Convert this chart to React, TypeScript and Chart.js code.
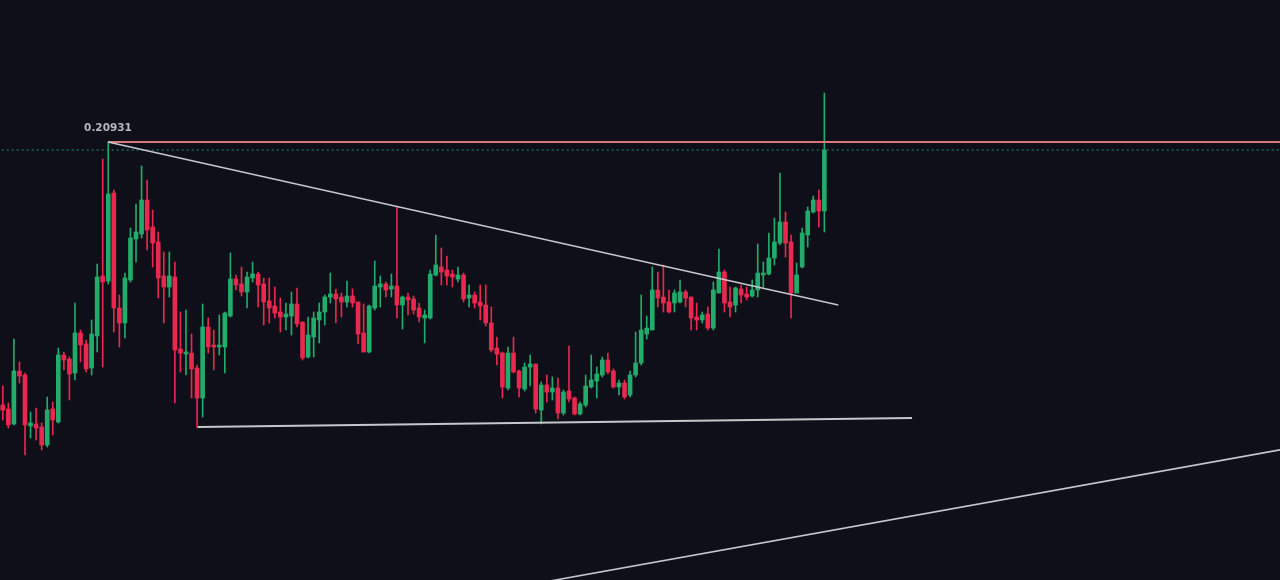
import { useEffect, useRef } from "react";
import { Chart, registerables } from "chart.js";

Chart.register(...registerables);

// OHLC prices (one entry per candle, oldest first)
const opens = [
  0.1830, 0.1826, 0.1811, 0.1864, 0.1860, 0.1809, 0.1811, 0.1808, 0.1790, 0.1826,
  0.1813, 0.1880, 0.1876, 0.1862, 0.1902, 0.1891, 0.1867, 0.1899, 0.1959, 0.1954,
  0.2042, 0.1927, 0.1912, 0.1955, 0.1996, 0.2001, 0.2035, 0.2008, 0.1993, 0.1959,
  0.1948, 0.1958, 0.1886, 0.1881, 0.1882, 0.1867, 0.1837, 0.1908, 0.1890, 0.1888,
  0.1888, 0.1919, 0.1956, 0.1951, 0.1943, 0.1957, 0.1961, 0.1951, 0.1934, 0.1929,
  0.1923, 0.1918, 0.1919, 0.1931, 0.1913, 0.1878, 0.1898, 0.1915, 0.1923, 0.1938,
  0.1941, 0.1938, 0.1933, 0.1939, 0.1933, 0.1902, 0.1883, 0.1927, 0.1948, 0.1951,
  0.1946, 0.1949, 0.1930, 0.1938, 0.1936, 0.1927, 0.1917, 0.1917, 0.1960, 0.1968,
  0.1965, 0.1961, 0.1956, 0.1960, 0.1937, 0.1940, 0.1933, 0.1930, 0.1912, 0.1887,
  0.1882, 0.1847, 0.1882, 0.1864, 0.1846, 0.1868, 0.1871, 0.1825, 0.1850, 0.1843,
  0.1847, 0.1822, 0.1844, 0.1837, 0.1821, 0.1830, 0.1848, 0.1854, 0.1860, 0.1875,
  0.1864, 0.1848, 0.1852, 0.1840, 0.1860, 0.1872, 0.1901, 0.1905, 0.1945, 0.1938,
  0.1933, 0.1932, 0.1933, 0.1943, 0.1938, 0.1918, 0.1915, 0.1921, 0.1907, 0.1942,
  0.1963, 0.1933, 0.1930, 0.1946, 0.1941, 0.1939, 0.1945, 0.1960, 0.1961, 0.1977,
  0.1992, 0.2013, 0.1993, 0.1942, 0.1968, 0.2000, 0.2023, 0.2035, 0.2024,
];

const highs = [
  0.1849, 0.1832, 0.1896, 0.1873, 0.1862, 0.1823, 0.1827, 0.1812, 0.1838, 0.1833,
  0.1887, 0.1883, 0.1878, 0.1932, 0.1905, 0.1895, 0.1915, 0.1971, 0.2076, 0.20931,
  0.2045, 0.1940, 0.1962, 0.2007, 0.2031, 0.2069, 0.2055, 0.2025, 0.2003, 0.1983,
  0.1983, 0.1973, 0.1923, 0.1925, 0.1901, 0.1870, 0.1931, 0.1917, 0.1905, 0.1920,
  0.1923, 0.1982, 0.1960, 0.1968, 0.1963, 0.1973, 0.1963, 0.1957, 0.1957, 0.1948,
  0.1937, 0.1932, 0.1943, 0.1947, 0.1913, 0.1918, 0.1923, 0.1932, 0.1940, 0.1962,
  0.1946, 0.1942, 0.1954, 0.1946, 0.1933, 0.1931, 0.1930, 0.1974, 0.1959, 0.1953,
  0.1961, 0.2028, 0.1939, 0.1942, 0.1939, 0.1932, 0.1925, 0.1965, 0.2000, 0.1987,
  0.1979, 0.1965, 0.1968, 0.1962, 0.1950, 0.1943, 0.1950, 0.1950, 0.1928, 0.1898,
  0.1883, 0.1888, 0.1898, 0.1865, 0.1872, 0.1880, 0.1871, 0.1853, 0.1860, 0.1858,
  0.1857, 0.1845, 0.1889, 0.1838, 0.1833, 0.1860, 0.1880, 0.1868, 0.1878, 0.1882,
  0.1866, 0.1855, 0.1855, 0.1864, 0.1903, 0.1940, 0.1919, 0.1968, 0.1963, 0.1970,
  0.1945, 0.1945, 0.1955, 0.1945, 0.1938, 0.1932, 0.1923, 0.1928, 0.1953, 0.1986,
  0.1965, 0.1948, 0.1948, 0.1950, 0.1948, 0.1955, 0.1991, 0.1973, 0.2002, 0.2017,
  0.2062, 0.2023, 0.2000, 0.1972, 0.2007, 0.2028, 0.2039, 0.2045, 0.2142,
];

const lows = [
  0.1815, 0.1807, 0.1810, 0.1852, 0.1780, 0.1797, 0.1795, 0.1785, 0.1788, 0.1800,
  0.1812, 0.1865, 0.1835, 0.1855, 0.1873, 0.1863, 0.1860, 0.1883, 0.1868, 0.1951,
  0.1903, 0.1888, 0.1897, 0.1953, 0.1973, 0.1997, 0.1985, 0.1968, 0.1937, 0.1912,
  0.1938, 0.1832, 0.1863, 0.1860, 0.1837, 0.1807, 0.1818, 0.1882, 0.1865, 0.1880,
  0.1862, 0.1918, 0.1945, 0.1939, 0.1927, 0.1953, 0.1928, 0.1910, 0.1912, 0.1917,
  0.1903, 0.1905, 0.1900, 0.1908, 0.1875, 0.1877, 0.1878, 0.1892, 0.1910, 0.1932,
  0.1912, 0.1918, 0.1928, 0.1928, 0.1891, 0.1883, 0.1882, 0.1925, 0.1928, 0.1938,
  0.1938, 0.1917, 0.1906, 0.1920, 0.1921, 0.1913, 0.1892, 0.1916, 0.1959, 0.1950,
  0.1950, 0.1948, 0.1953, 0.1933, 0.1928, 0.1927, 0.1915, 0.1909, 0.1883, 0.1870,
  0.1837, 0.1845, 0.1862, 0.1838, 0.1844, 0.1849, 0.1822, 0.1811, 0.1833, 0.1835,
  0.1816, 0.1820, 0.1833, 0.1820, 0.1820, 0.1828, 0.1847, 0.1837, 0.1858, 0.1861,
  0.1847, 0.1840, 0.1836, 0.1838, 0.1858, 0.1870, 0.1896, 0.1905, 0.1928, 0.1923,
  0.1922, 0.1923, 0.1932, 0.1928, 0.1905, 0.1905, 0.1912, 0.1905, 0.1905, 0.1942,
  0.1923, 0.1918, 0.1923, 0.1932, 0.1935, 0.1938, 0.1938, 0.1948, 0.1960, 0.1970,
  0.1990, 0.1978, 0.1917, 0.1942, 0.1967, 0.1988, 0.2022, 0.2008, 0.2003,
];

const closes = [
  0.1825, 0.1810, 0.1864, 0.1859, 0.1810, 0.1812, 0.1807, 0.1790, 0.1825, 0.1815,
  0.1880, 0.1875, 0.1861, 0.1902, 0.1890, 0.1866, 0.1901, 0.1958, 0.1953, 0.2041,
  0.1927, 0.1912, 0.1957, 0.1997, 0.2003, 0.2035, 0.2005, 0.1992, 0.1957, 0.1948,
  0.1959, 0.1885, 0.1882, 0.1883, 0.1866, 0.1837, 0.1908, 0.1888, 0.1888, 0.1890,
  0.1922, 0.1956, 0.1950, 0.1943, 0.1958, 0.1961, 0.1950, 0.1933, 0.1927, 0.1922,
  0.1918, 0.1921, 0.1931, 0.1911, 0.1877, 0.1900, 0.1917, 0.1923, 0.1938, 0.1941,
  0.1936, 0.1933, 0.1939, 0.1932, 0.1901, 0.1883, 0.1929, 0.1949, 0.1951, 0.1945,
  0.1949, 0.1930, 0.1938, 0.1935, 0.1925, 0.1918, 0.1920, 0.1961, 0.1970, 0.1963,
  0.1959, 0.1958, 0.1960, 0.1936, 0.1940, 0.1932, 0.1929, 0.1912, 0.1885, 0.1881,
  0.1848, 0.1882, 0.1863, 0.1847, 0.1868, 0.1871, 0.1826, 0.1850, 0.1843, 0.1847,
  0.1822, 0.1843, 0.1836, 0.1821, 0.1831, 0.1849, 0.1855, 0.1861, 0.1875, 0.1863,
  0.1848, 0.1852, 0.1838, 0.1860, 0.1872, 0.1905, 0.1907, 0.1945, 0.1937, 0.1932,
  0.1923, 0.1942, 0.1943, 0.1937, 0.1917, 0.1915, 0.1920, 0.1907, 0.1945, 0.1963,
  0.1932, 0.1928, 0.1947, 0.1940, 0.1938, 0.1945, 0.1962, 0.1962, 0.1977, 0.1993,
  0.2013, 0.1992, 0.1942, 0.1960, 0.2002, 0.2024, 0.2035, 0.2024, 0.2085,
];

// Drawn lines: [candle index, price] endpoints
const upperTrend = [
  { x: 18.95, y: 0.2093 },
  { x: 150.5, y: 0.193 },
];
const lowerTrend = [
  { x: 35.16, y: 0.1808 },
  { x: 163.8, y: 0.1817 },
];
const longTrend = [
  { x: 89.57, y: 0.1645 },
  { x: 231.9, y: 0.1787 },
];
const resistance = [
  { x: 18.95, y: 0.2093 },
  { x: 235, y: 0.2093 },
];
const lastPriceLine = [
  { x: -2, y: 0.2085 },
  { x: 235, y: 0.2085 },
];
const resistanceLabel = "0.20931";
const labelAnchor = { x: 18.95, y: 0.2093 };

const X_MIN = -0.504;
const X_MAX = 230.08;
const Y_MIN = 0.1655;
const Y_MAX = 0.2235;

const BG = "#0e0f18";
const GREEN = "#22ab6b";
const RED = "#e8284f";
const LINE_GRAY = "#c6c6cc";

export default function App() {
  const ref = useRef<HTMLCanvasElement>(null);

  useEffect(() => {
    document.body.style.margin = "0";
    document.body.style.background = BG;
    const canvas = ref.current;
    if (!canvas) return;

    const colors = opens.map((o, i) => (closes[i] >= o ? GREEN : RED));
    const bodies = opens.map((o, i) => ({ x: i, y: [o, closes[i]] }));
    const wicks = opens.map((_, i) => ({ x: i, y: [lows[i], highs[i]] }));

    const bgPlugin = {
      id: "bg",
      beforeDraw(chart: any) {
        const { ctx, width, height } = chart;
        ctx.save();
        ctx.fillStyle = BG;
        ctx.fillRect(0, 0, width, height);
        ctx.restore();
      },
    };

    const labelPlugin = {
      id: "priceLabel",
      afterDatasetsDraw(chart: any) {
        const { ctx, scales } = chart;
        const px = scales.x.getPixelForValue(labelAnchor.x);
        const py = scales.y.getPixelForValue(labelAnchor.y);
        ctx.save();
        ctx.font = "bold 10.5px 'DejaVu Sans', sans-serif";
        ctx.fillStyle = "#b6b8be";
        ctx.textAlign = "center";
        ctx.textBaseline = "middle";
        ctx.fillText(resistanceLabel, px, py - 13.5);
        ctx.restore();
      },
    };

    const lineDs = (data: any[], color: string, width: number, dash: number[] = []) => ({
      type: "line" as const,
      data,
      borderColor: color,
      borderWidth: width,
      borderDash: dash,
      pointRadius: 0,
      fill: false,
      tension: 0,
      order: 0,
    });

    const chart = new Chart(canvas, {
      type: "bar",
      data: {
        datasets: [
          lineDs(upperTrend, LINE_GRAY, 1.6) as any,
          lineDs(lowerTrend, LINE_GRAY, 1.8) as any,
          lineDs(longTrend, LINE_GRAY, 1.6) as any,
          lineDs(resistance, "#d9787a", 2) as any,
          lineDs(lastPriceLine, "#1f9a6c", 1, [2, 3]) as any,
          {
            type: "bar",
            data: bodies as any,
            backgroundColor: colors,
            barThickness: 4,
            minBarLength: 1,
            grouped: false,
            order: 1,
          } as any,
          {
            type: "bar",
            data: wicks as any,
            backgroundColor: colors,
            barThickness: 1,
            grouped: false,
            order: 2,
          } as any,
        ],
      },
      options: {
        responsive: false,
        animation: false,
        layout: { padding: 0 },
        plugins: {
          legend: { display: false },
          tooltip: { enabled: false },
        },
        scales: {
          x: {
            type: "linear",
            display: false,
            min: X_MIN,
            max: X_MAX,
            offset: false,
            grid: { display: false },
          },
          y: {
            type: "linear",
            display: false,
            min: Y_MIN,
            max: Y_MAX,
            grid: { display: false },
          },
        },
      },
      plugins: [bgPlugin, labelPlugin],
    });

    return () => chart.destroy();
  }, []);

  return (
    <div style={{ width: 1280, height: 580, background: BG }}>
      <canvas ref={ref} width={1280} height={580} style={{ display: "block" }} />
    </div>
  );
}
